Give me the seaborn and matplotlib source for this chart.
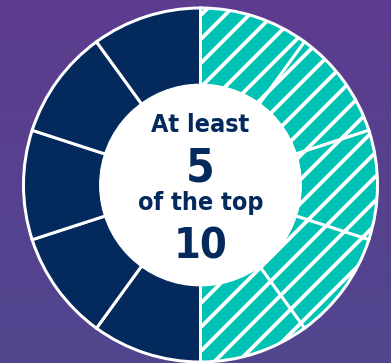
import numpy as np
import matplotlib
matplotlib.use("Agg")
import matplotlib.pyplot as plt
import seaborn as sns

# Ten equal slots, one for each place in the top ten
slots = ["1", "2", "3", "4", "5", "6", "7", "8", "9", "10"]
slot_shares = [1, 1, 1, 1, 1, 1, 1, 1, 1, 1]
# First five slots (drawn clockwise from the top) are the highlighted ones
slot_highlight = [True, True, True, True, True, False, False, False, False, False]

headline_lines = ["At least", "5", "of the top", "10"]
headline_sizes = [25, 46, 25, 43]

NAVY = "#04295d"
TEAL = "#00c2b4"
BG_TOP = "#5d3c8e"
BG_BOTTOM = "#51468e"

sns.set_theme(style="white")
plt.rcParams["hatch.linewidth"] = 3.8
plt.rcParams["font.family"] = ["DejaVu Sans"]

W, H, DPI = 391, 363, 72
fig = plt.figure(figsize=(W / DPI, H / DPI), dpi=DPI)

# Background gradient
bg = fig.add_axes([0, 0, 1, 1], zorder=-1)
grad = np.linspace(0, 1, 256).reshape(-1, 1)
cmap = matplotlib.colors.LinearSegmentedColormap.from_list("bg", [BG_TOP, BG_BOTTOM])
bg.imshow(grad, aspect="auto", cmap=cmap, extent=[0, 1, 0, 1], origin="upper")
bg.set_axis_off()

# Donut axes: center at (200.5, 185) px, outer radius 177 px
R_PX = 177.0
cx, cy = 200.5, H - 185.0
L = 1.06
half = R_PX * L
ax = fig.add_axes([(cx - half) / W, (cy - half) / H, 2 * half / W, 2 * half / H])

colors = [TEAL if h else NAVY for h in slot_highlight]
wedges, _ = ax.pie(
    slot_shares,
    colors=colors,
    startangle=90,
    counterclock=False,
    radius=1.0,
    wedgeprops=dict(width=0.44, edgecolor="white", linewidth=3.0),
)
for w, h in zip(wedges, slot_highlight):
    if h:
        w.set_hatch("/")

ax.add_patch(plt.Circle((0, 0), 0.57, color="white", zorder=3))

ys = [0.30, 0.02, -0.141, -0.418]
for txt, size, y in zip(headline_lines, headline_sizes, ys):
    ax.text(0, y, txt, ha="center", va="baseline", fontsize=size,
            fontweight="bold", fontstretch="condensed", color=NAVY, zorder=4)

ax.set_xlim(-L, L)
ax.set_ylim(-L, L)
ax.set_aspect("equal")
ax.set_axis_off()

fig.savefig("out.png", dpi=DPI)
